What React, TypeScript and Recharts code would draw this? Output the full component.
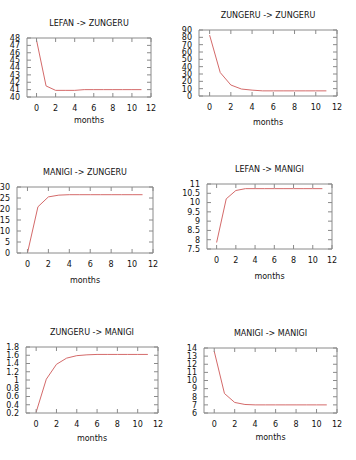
import React from 'react';
import { LineChart, Line, XAxis, YAxis, ReferenceLine } from 'recharts';

const months = [0, 1, 2, 3, 4, 5, 6, 7, 8, 9, 10, 11];
const monthTicks = [0, 2, 4, 6, 8, 10, 12];

const lefanZungeru = [47.7, 41.5, 40.9, 40.9, 40.9, 41, 41, 41, 41, 41, 41, 41];
const zungeruZungeru = [83, 32, 15, 9.5, 8, 7, 7, 7, 7, 7, 7, 7];
const manigiZungeru = [0, 21, 25.5, 26.3, 26.5, 26.5, 26.5, 26.5, 26.5, 26.5, 26.5, 26.5];
const lefanManigi = [7.85, 10.2, 10.65, 10.75, 10.75, 10.75, 10.75, 10.75, 10.75, 10.75, 10.75, 10.75];
const zungeruManigi = [0.22, 1.02, 1.38, 1.53, 1.59, 1.61, 1.62, 1.62, 1.62, 1.62, 1.62, 1.62];
const manigiManigi = [13.6, 8.4, 7.3, 7.05, 7, 7, 7, 7, 7, 7, 7, 7];

const ticksLZ = [40, 41, 42, 43, 44, 45, 46, 47, 48];
const ticksZZ = [0, 10, 20, 30, 40, 50, 60, 70, 80, 90];
const ticksMZ = [0, 5, 10, 15, 20, 25, 30];
const ticksLM = [7.5, 8, 8.5, 9, 9.5, 10, 10.5, 11];
const ticksZM = [0.2, 0.4, 0.6, 0.8, 1, 1.2, 1.4, 1.6, 1.8];
const ticksMM = [6, 7, 8, 9, 10, 11, 12, 13, 14];

const titles = ['LEFAN -> ZUNGERU', 'ZUNGERU -> ZUNGERU', 'MANIGI -> ZUNGERU', 'LEFAN -> MANIGI', 'ZUNGERU -> MANIGI', 'MANIGI -> MANIGI'];

// plot box in page pixels: left, right, top, bottom, gap to "months" baseline
const boxes = [
  { l: 27, r: 151, t: 38, b: 97, m: 26 },
  { l: 199, r: 337, t: 30, b: 96, m: 29 },
  { l: 17, r: 153, t: 187, b: 253, m: 30 },
  { l: 207, r: 332, t: 184, b: 249, m: 30 },
  { l: 26, r: 158, t: 347, b: 413, m: 28 },
  { l: 204, r: 337, t: 348, b: 413, m: 27 },
];

const panels = [
  { values: lefanZungeru, ticks: ticksLZ },
  { values: zungeruZungeru, ticks: ticksZZ },
  { values: manigiZungeru, ticks: ticksMZ },
  { values: lefanManigi, ticks: ticksLM },
  { values: zungeruManigi, ticks: ticksZM },
  { values: manigiManigi, ticks: ticksMM },
];

const FONT = '"DejaVu Sans", Verdana, sans-serif';
const GREY = '#8a8a8a';
const INK = '#111';
const YW = 30;
const TOP = 24;
const RIGHT = 6;
const BOTTOM = 6;
const XM = 8;
const YM = 7;
const TL = 4;

const Panel = ({ idx }: { idx: number }) => {
  const box = boxes[idx];
  const p = panels[idx];
  const data = months.map((m, i) => ({ month: m, v: p.values[i] }));
  const yDom = [p.ticks[0], p.ticks[p.ticks.length - 1]];
  const pw = box.r - box.l;
  const ph = box.b - box.t;
  const w = pw + YW + RIGHT;
  const h = ph + TOP + box.m + BOTTOM;

  const xTick = (props: any) => {
    const { x, y, payload } = props;
    const ay = y - XM;
    return (
      <g>
        <line x1={x} x2={x} y1={ay} y2={ay - TL} stroke={GREY} />
        <line x1={x} x2={x} y1={ay - ph} y2={ay - ph + TL} stroke={GREY} />
        <text x={x} y={y} dy="0.71em" textAnchor="middle" fontSize={8} fontFamily={FONT} fill={INK}>
          {payload.value}
        </text>
      </g>
    );
  };

  const yTick = (props: any) => {
    const { x, y, payload } = props;
    const ax = x + YM;
    return (
      <g>
        <line x1={ax} x2={ax + TL} y1={y} y2={y} stroke={GREY} />
        <line x1={ax + pw} x2={ax + pw - TL} y1={y} y2={y} stroke={GREY} />
        <text x={x} y={y} dy="0.355em" textAnchor="end" fontSize={8} fontFamily={FONT} fill={INK}>
          {payload.value}
        </text>
      </g>
    );
  };

  return (
    <div style={{ position: 'absolute', left: box.l - YW, top: box.t - TOP }}>
      <LineChart width={w} height={h} data={data} margin={{ top: TOP, right: RIGHT, left: 0, bottom: BOTTOM }}>
        <XAxis
          dataKey="month"
          type="number"
          domain={[-1, 12]}
          ticks={monthTicks}
          height={box.m}
          tickSize={0}
          tickMargin={XM}
          tickLine={false}
          stroke={GREY}
          tick={xTick}
          interval={0}
          label={{ value: 'months', position: 'insideBottom', offset: 0, fontSize: 8, fill: INK, fontFamily: FONT }}
        />
        <YAxis
          type="number"
          domain={yDom}
          ticks={p.ticks}
          width={YW}
          tickSize={0}
          tickMargin={YM}
          tickLine={false}
          stroke={GREY}
          tick={yTick}
          interval={0}
        />
        <ReferenceLine
          y={yDom[1]}
          stroke={GREY}
          label={{ value: titles[idx], position: 'top', offset: 12, fontSize: 8, fill: INK, fontFamily: FONT }}
        />
        <ReferenceLine x={12} stroke={GREY} />
        <Line type="linear" dataKey="v" stroke="#d46a6a" strokeWidth={1} dot={false} isAnimationActive={false} />
      </LineChart>
    </div>
  );
};

const App = () => (
  <div style={{ position: 'absolute', left: 0, top: 0, width: 356, height: 460, background: '#fff' }}>
    {panels.map((_, i) => (
      <Panel key={i} idx={i} />
    ))}
  </div>
);

export default App;
